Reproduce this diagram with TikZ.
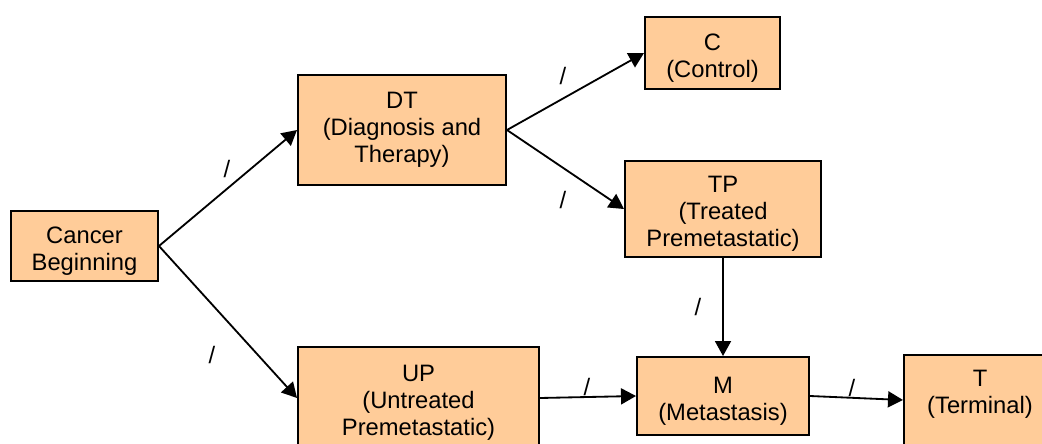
\documentclass[tikz,border=0pt]{standalone}
\usepackage{fontspec}
\setmainfont{Liberation Sans}
\usetikzlibrary{arrows.meta}
\definecolor{boxorange}{HTML}{FFCC99}
\newcommand{\boxstrut}{\rule{0pt}{19pt}}

\begin{document}
\begin{tikzpicture}[
    >={Triangle[length=0.375cm, width=0.4cm]},
    box/.style={draw, line width=1.4pt, fill=boxorange, align=center, inner sep=0pt,
                font=\fontsize{16.9}{19.2}\selectfont},
    flow/.style={->, line width=1.3pt},
    slash/.style={inner sep=0pt, font=\fontsize{16.9}{19.2}\selectfont}
]
    % Frame
    \useasboundingbox (0,0) rectangle (26.05,11.075);
    \clip (0,0) rectangle (26.05,11.075);

    % States
    \node[box, minimum width=3.675cm, minimum height=1.75cm] (cb) at (2.1125,4.925) {\boxstrut Cancer\\Beginning};
    \node[box, minimum width=5.2cm, minimum height=2.75cm] (dt) at (10.05,7.825) {DT\\(Diagnosis and\\Therapy)};
    \node[box, minimum width=3.375cm, minimum height=1.8cm] (ctl) at (17.8125,9.75) {\boxstrut C\\(Control)};
    \node[box, minimum width=4.9cm, minimum height=2.4cm] (tp) at (18.075,5.85) {\boxstrut TP\\(Treated\\Premetastatic)};
    \node[box, minimum width=6.025cm, minimum height=2.55cm] (up) at (10.4625,1.125) {\boxstrut UP\\(Untreated\\Premetastatic)};
    \node[box, minimum width=4.3cm, minimum height=1.95cm] (met) at (18.075,1.175) {\boxstrut M\\(Metastasis)};
    \node[box, minimum width=3.8cm, minimum height=2.25cm] (term) at (24.5,1.075) {T\\(Terminal)\rule[-11pt]{0pt}{0pt}};

    % Transitions
    \draw[flow] (cb.east) -- (dt.west);
    \draw[flow] (cb.east) -- (up.west);
    \draw[flow] (dt.east) -- (ctl.west);
    \draw[flow] (dt.east) -- (tp.west);
    \draw[flow] (tp.south) -- (met.north);
    \draw[flow] (up.east) -- (met.west);
    \draw[flow] (met.east) -- (term.west);

    % Rate marks
    \node[slash] (r1) at (5.675,6.85) {/};
    \node[slash] (r2) at (5.3,2.2) {/};
    \node[slash] (r3) at (14.075,9.175) {/};
    \node[slash] (r4) at (14.075,6.075) {/};
    \node[slash] (r5) at (17.45,3.4) {/};
    \node[slash] (r6) at (14.675,1.4) {/};
    \node[slash] (r7) at (21.3,1.375) {/};
\end{tikzpicture}
\end{document}
